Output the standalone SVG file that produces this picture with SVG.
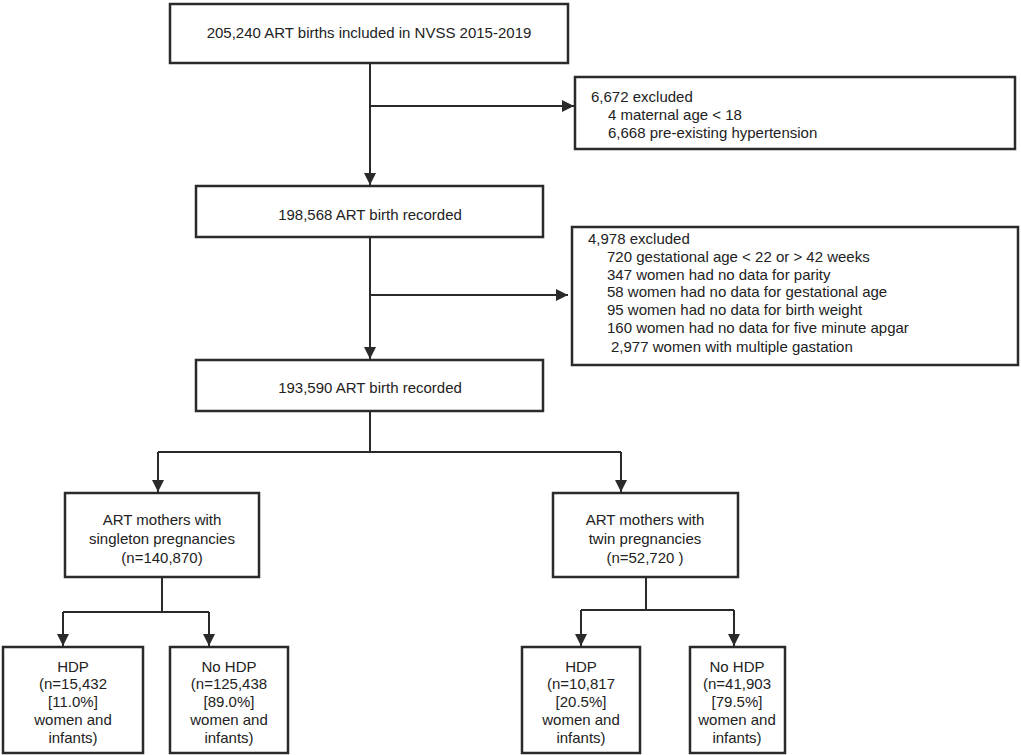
<svg xmlns="http://www.w3.org/2000/svg" width="1021" height="755" viewBox="0 0 1021 755">
<defs>
<marker id="ah" markerUnits="userSpaceOnUse" markerWidth="13" markerHeight="13" refX="12" refY="6" orient="auto">
<path d="M0,0 L12,6 L0,12 z" fill="#2a2a2a"/>
</marker>
<style>
.box{fill:#fff;stroke:#2a2a2a;stroke-width:2.5}
.t{font-family:"Liberation Sans",Arial,sans-serif;font-size:15px;fill:#222}
.c{text-anchor:middle}
.ln{fill:none;stroke:#2a2a2a;stroke-width:2}
</style>
</defs>
<rect width="1021" height="755" fill="#fff"/>
<g id="connectors">
<path class="ln" d="M370,63 V185" marker-end="url(#ah)"/>
<path class="ln" d="M370,106 H574" marker-end="url(#ah)"/>
<path class="ln" d="M370,237 V359" marker-end="url(#ah)"/>
<path class="ln" d="M370,295 H568" marker-end="url(#ah)"/>
<path class="ln" d="M370,411 V452"/>
<path class="ln" d="M158,452 H621"/>
<path class="ln" d="M158,452 V492" marker-end="url(#ah)"/>
<path class="ln" d="M621,452 V492" marker-end="url(#ah)"/>
<path class="ln" d="M162,577 V612"/>
<path class="ln" d="M63,612 H209"/>
<path class="ln" d="M63,612 V646" marker-end="url(#ah)"/>
<path class="ln" d="M209,612 V646" marker-end="url(#ah)"/>
<path class="ln" d="M646,577 V610"/>
<path class="ln" d="M581,610 H734"/>
<path class="ln" d="M581,610 V646" marker-end="url(#ah)"/>
<path class="ln" d="M734,610 V646" marker-end="url(#ah)"/>
</g>
<g id="n1">
<rect class="box" x="170" y="4" width="398" height="59"/>
<text class="t c" x="369" y="38">205,240 ART births included in NVSS 2015-2019</text>
</g>
<g id="ex1">
<rect class="box" x="575" y="77" width="440" height="72"/>
<text class="t" x="591" y="102">6,672 excluded</text>
<text class="t" x="608" y="120">4 maternal age &lt; 18</text>
<text class="t" x="608" y="138">6,668 pre-existing hypertension</text>
</g>
<g id="n2">
<rect class="box" x="196" y="186" width="347" height="51"/>
<text class="t c" x="370" y="220">198,568 ART birth recorded</text>
</g>
<g id="ex2">
<rect class="box" x="572" y="227" width="446" height="138"/>
<text class="t" x="588" y="244">4,978 excluded</text>
<text class="t" x="607" y="262">720 gestational age &lt; 22 or &gt; 42 weeks</text>
<text class="t" x="607" y="280">347 women had no data for parity</text>
<text class="t" x="607" y="297">58 women had no data for gestational age</text>
<text class="t" x="607" y="315">95 women had no data for birth weight</text>
<text class="t" x="607" y="333">160 women had no data for five minute apgar</text>
<text class="t" x="611" y="352">2,977 women with multiple gastation</text>
</g>
<g id="n3">
<rect class="box" x="196" y="360" width="347" height="51"/>
<text class="t c" x="370" y="393">193,590 ART birth recorded</text>
</g>
<g id="single">
<rect class="box" x="65" y="493" width="194" height="84"/>
<text class="t c" x="162" y="525">ART mothers with</text>
<text class="t c" x="162" y="544">singleton pregnancies</text>
<text class="t c" x="162" y="563">(n=140,870)</text>
</g>
<g id="twin">
<rect class="box" x="553" y="493" width="185" height="84"/>
<text class="t c" x="645" y="525">ART mothers with</text>
<text class="t c" x="645" y="544">twin pregnancies</text>
<text class="t c" x="645" y="563">(n=52,720 )</text>
</g>
<g id="s-hdp">
<rect class="box" x="3" y="647" width="140" height="106"/>
<text class="t c" x="73" y="672">HDP</text>
<text class="t c" x="73" y="689">(n=15,432</text>
<text class="t c" x="73" y="707">[11.0%]</text>
<text class="t c" x="73" y="725">women and</text>
<text class="t c" x="73" y="743">infants)</text>
</g>
<g id="s-nohdp">
<rect class="box" x="170" y="647" width="118" height="106"/>
<text class="t c" x="229" y="672">No HDP</text>
<text class="t c" x="229" y="689">(n=125,438</text>
<text class="t c" x="229" y="707">[89.0%]</text>
<text class="t c" x="229" y="725">women and</text>
<text class="t c" x="229" y="743">infants)</text>
</g>
<g id="t-hdp">
<rect class="box" x="522" y="647" width="118" height="106"/>
<text class="t c" x="581" y="672">HDP</text>
<text class="t c" x="581" y="689">(n=10,817</text>
<text class="t c" x="581" y="707">[20.5%]</text>
<text class="t c" x="581" y="725">women and</text>
<text class="t c" x="581" y="743">infants)</text>
</g>
<g id="t-nohdp">
<rect class="box" x="690" y="647" width="95" height="106"/>
<text class="t c" x="737" y="672">No HDP</text>
<text class="t c" x="737" y="689">(n=41,903</text>
<text class="t c" x="737" y="707">[79.5%]</text>
<text class="t c" x="737" y="725">women and</text>
<text class="t c" x="737" y="743">infants)</text>
</g>
</svg>
